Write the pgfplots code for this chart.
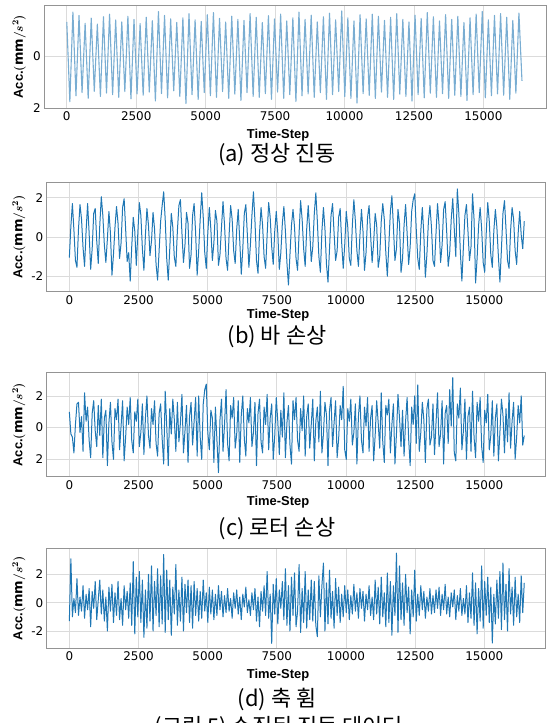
\documentclass[border=0pt]{standalone}
\usepackage{fontspec}
\setmainfont{DejaVu Sans}
\newfontfamily\lab{Liberation Sans}
\newfontfamily\kr{Noto Sans CJK KR}
\usepackage{pgfplots}
\usepackage{pgfplotstable}
\pgfplotsset{compat=1.18}
\definecolor{mplblue}{HTML}{1F77B4}

% (a) normal vibration, one value every 110 steps
\pgfplotstableread[row sep=\\]{y\\
1.30\\ -1.75\\ 1.68\\ -1.52\\ 1.55\\ -1.40\\ 1.25\\ -1.62\\ 1.45\\ -1.35\\ 1.22\\ -1.55\\ 1.50\\ -1.42\\ 1.60\\ -1.48\\ 1.38\\ -1.58\\ 1.30\\ -1.36\\
1.52\\ -1.64\\ 1.40\\ -1.45\\ 1.24\\ -1.50\\ 1.48\\ -1.38\\ 1.35\\ -1.72\\ 1.70\\ -1.44\\ 1.55\\ -1.60\\ 1.42\\ -1.33\\ 1.28\\ -1.55\\ 1.46\\ -1.82\\
1.62\\ -1.48\\ 1.38\\ -1.66\\ 1.32\\ -1.40\\ 1.58\\ -1.52\\ 1.66\\ -1.58\\ 1.44\\ -1.36\\ 1.30\\ -1.62\\ 1.52\\ -1.46\\ 1.40\\ -1.70\\ 1.36\\ -1.40\\
1.62\\ -1.55\\ 1.48\\ -1.58\\ 1.28\\ -1.44\\ 1.54\\ -1.66\\ 1.42\\ -1.38\\ 1.60\\ -1.62\\ 1.34\\ -1.48\\ 1.46\\ -1.74\\ 1.68\\ -1.52\\ 1.40\\ -1.45\\
1.56\\ -1.58\\ 1.30\\ -1.40\\ 1.50\\ -1.66\\ 1.64\\ -1.48\\ 1.38\\ -1.36\\ 1.72\\ -1.55\\ 1.46\\ -1.62\\ 1.34\\ -1.80\\ 1.58\\ -1.44\\ 1.42\\ -1.50\\
1.60\\ -1.62\\ 1.52\\ -1.38\\ 1.36\\ -1.58\\ 1.48\\ -1.66\\ 1.62\\ -1.46\\ 1.40\\ -1.55\\ 1.30\\ -1.72\\ 1.56\\ -1.48\\ 1.44\\ -1.60\\ 1.66\\ -1.42\\
1.50\\ -1.58\\ 1.34\\ -1.44\\ 1.58\\ -1.62\\ 1.40\\ -1.50\\ 1.52\\ -1.55\\ 1.28\\ -1.70\\ 1.46\\ -1.48\\ 1.60\\ -1.40\\ 1.70\\ -1.60\\ 1.38\\ -1.52\\
1.55\\ -1.45\\ 1.62\\ -1.50\\ 1.48\\ -1.66\\ 1.36\\ -1.42\\ 1.64\\ -0.95\\
}\dataa

% (b) bar damage, one value every 55 steps
\pgfplotstableread[row sep=\\]{y\\
-1.05\\ 0.55\\ 1.70\\ 0.35\\ -1.20\\ -1.55\\ 0.40\\ 1.65\\ 0.90\\ -0.55\\ -1.50\\ 0.30\\ 1.70\\ 0.20\\ -1.65\\ -0.60\\ 1.20\\ 1.45\\ -0.20\\ -1.35\\
0.60\\ 2.05\\ 1.10\\ -0.40\\ -1.30\\ -0.10\\ 1.30\\ 0.20\\ -1.95\\ -0.90\\ 0.50\\ 1.55\\ 0.70\\ -1.10\\ -0.30\\ 1.50\\ 1.95\\ 0.40\\ -1.25\\ -0.80\\
-2.25\\ -0.50\\ 1.00\\ 0.30\\ -1.45\\ 0.20\\ 1.75\\ 1.10\\ -0.60\\ -1.70\\ 0.10\\ 1.45\\ 0.60\\ -0.95\\ -0.20\\ 1.25\\ 0.40\\ -1.40\\ -2.20\\ -0.70\\
0.80\\ 1.60\\ 2.30\\ 0.90\\ -1.10\\ -2.20\\ -0.60\\ 1.20\\ 0.50\\ -1.05\\ -1.50\\ 0.30\\ 1.60\\ 1.90\\ 0.20\\ -1.30\\ -0.40\\ 1.25\\ 0.70\\ -1.60\\
-0.90\\ 1.10\\ 1.70\\ 0.20\\ -1.95\\ -0.70\\ 0.90\\ 2.25\\ 1.00\\ -0.80\\ -1.60\\ 0.20\\ 1.50\\ 0.40\\ -1.20\\ -0.30\\ 1.35\\ 0.80\\ -1.45\\ -0.90\\
0.50\\ 1.80\\ 0.60\\ -1.10\\ -1.70\\ 0.10\\ 1.60\\ 0.90\\ -0.70\\ -1.35\\ 0.40\\ 1.40\\ -0.20\\ -1.90\\ -0.60\\ 1.20\\ 1.65\\ 0.10\\ -1.55\\ -0.40\\
1.10\\ 2.30\\ 0.80\\ -1.20\\ -1.85\\ 0.20\\ 1.50\\ 0.60\\ -1.00\\ -1.60\\ 0.10\\ 1.75\\ 1.00\\ -0.50\\ -1.40\\ 0.30\\ 1.30\\ 0.20\\ -1.65\\ -0.80\\
0.70\\ 1.55\\ 0.30\\ -1.30\\ -2.45\\ -0.90\\ 0.60\\ 1.40\\ 0.50\\ -1.10\\ -1.70\\ 0.20\\ 1.85\\ 0.90\\ -0.60\\ -1.50\\ 0.40\\ 1.60\\ 0.30\\ -1.25\\
-0.50\\ 1.20\\ 2.25\\ 0.80\\ -1.00\\ -1.80\\ 0.30\\ 1.50\\ 0.40\\ -1.40\\ -2.30\\ -0.60\\ 1.10\\ 1.70\\ 0.20\\ -1.20\\ -0.70\\ 1.00\\ 1.45\\ -0.30\\
-1.60\\ -0.40\\ 1.30\\ 0.50\\ -1.10\\ -1.45\\ 0.60\\ 1.90\\ 0.80\\ -0.70\\ -1.50\\ 0.10\\ 1.40\\ 0.30\\ -1.70\\ -0.80\\ 1.00\\ 1.60\\ 0.10\\ -1.30\\
-0.30\\ 1.20\\ 0.60\\ -1.55\\ -1.00\\ 0.80\\ 1.70\\ 0.90\\ -0.80\\ -2.00\\ -0.40\\ 1.30\\ 2.10\\ 0.50\\ -1.20\\ -0.60\\ 1.40\\ 0.70\\ -1.80\\ -1.10\\
0.60\\ 1.65\\ 0.20\\ -1.40\\ -0.50\\ 1.30\\ 1.90\\ 2.20\\ 0.40\\ -1.10\\ -1.65\\ 0.30\\ 1.50\\ 0.10\\ -2.05\\ -0.90\\ 0.80\\ 1.60\\ 0.50\\ -1.20\\
-1.50\\ 0.20\\ 1.70\\ 0.60\\ -1.30\\ -0.40\\ 1.40\\ 1.80\\ 0.30\\ -1.50\\ -0.80\\ 0.90\\ 1.95\\ 0.40\\ -1.00\\ 2.45\\ 1.20\\ -0.80\\ -2.25\\ -0.50\\
1.10\\ 1.65\\ 0.30\\ -1.20\\ -0.50\\ 2.20\\ 0.90\\ -2.35\\ -1.10\\ 0.60\\ 1.50\\ 0.40\\ -1.30\\ -1.80\\ 0.20\\ 1.75\\ 0.80\\ -0.90\\ -1.55\\ 0.30\\
1.40\\ 0.50\\ -1.00\\ -2.30\\ -0.60\\ 1.20\\ 1.85\\ 0.40\\ -1.20\\ -1.60\\ 0.30\\ 1.50\\ 0.90\\ -0.70\\ -1.40\\ 0.20\\ 1.30\\ 0.10\\ -0.60\\ 0.80\\
}\datab

% (c) rotor damage
\pgfplotstableread[row sep=\\]{y\\
1.00\\ -0.40\\ -0.60\\ -1.60\\ 0.20\\ 1.50\\ 1.60\\ -0.30\\ 0.70\\ -1.50\\ 2.20\\ 0.40\\ 1.30\\ -0.80\\ -1.90\\ 0.90\\ 1.70\\ -0.20\\ -1.20\\ 1.40\\
-0.50\\ 1.80\\ -1.90\\ 0.60\\ 1.10\\ -2.40\\ 0.30\\ 1.60\\ -0.90\\ -2.00\\ 1.20\\ 0.50\\ 1.80\\ -1.40\\ 0.10\\ 1.70\\ -2.10\\ -0.60\\ 1.30\\ 0.20\\
1.90\\ -0.80\\ -1.60\\ 1.00\\ 0.40\\ 1.80\\ -1.20\\ -0.30\\ 1.50\\ -1.70\\ 0.60\\ 2.00\\ -0.50\\ -1.30\\ 1.20\\ 0.20\\ 1.70\\ -1.00\\ -1.80\\ 0.90\\
1.50\\ -0.70\\ -2.30\\ 2.30\\ 0.10\\ -2.40\\ 1.20\\ -0.40\\ 1.80\\ 0.50\\ -1.50\\ 1.60\\ -0.90\\ 0.30\\ 2.10\\ -1.60\\ -0.20\\ 1.40\\ -2.20\\ 0.70\\
1.60\\ -1.10\\ 0.40\\ 1.90\\ -1.80\\ 2.00\\ -0.60\\ -2.00\\ 1.50\\ 2.40\\ 2.75\\ -0.30\\ -1.40\\ 1.10\\ 0.60\\ -2.20\\ 1.30\\ -0.80\\ -2.84\\ 0.50\\
1.80\\ -1.50\\ 0.20\\ 2.40\\ -1.00\\ -2.10\\ 1.40\\ 0.60\\ 1.90\\ -1.30\\ -0.40\\ 1.70\\ -2.20\\ 0.80\\ 2.00\\ -0.70\\ -1.80\\ 1.20\\ 0.30\\ 1.90\\
-1.20\\ -0.30\\ 1.60\\ -2.40\\ 0.90\\ 1.80\\ -0.90\\ -1.60\\ 1.30\\ 0.20\\ 2.10\\ -1.40\\ 0.60\\ 1.50\\ -2.00\\ -0.50\\ 1.90\\ 0.40\\ -1.70\\ 1.10\\
-0.60\\ 2.20\\ -1.90\\ 0.30\\ 1.40\\ -1.10\\ -2.30\\ 1.70\\ 0.50\\ 1.90\\ -0.80\\ -1.50\\ 1.20\\ -0.20\\ 2.00\\ -1.80\\ 0.70\\ 1.50\\ -1.30\\ 0.20\\
1.80\\ -2.10\\ 0.40\\ 1.30\\ -0.90\\ 2.30\\ -1.60\\ -0.40\\ 1.60\\ 0.80\\ -2.40\\ 1.10\\ 1.90\\ -1.20\\ 0.30\\ 1.70\\ -1.90\\ -0.70\\ 1.40\\ 0.50\\
2.60\\ -1.40\\ -2.00\\ 1.20\\ 0.40\\ 1.80\\ -1.10\\ -0.30\\ 1.50\\ -2.30\\ 0.70\\ 2.00\\ -0.80\\ -1.60\\ 1.30\\ 0.10\\ 1.90\\ -1.50\\ 0.60\\ 1.40\\
-2.10\\ -0.50\\ 1.70\\ 0.30\\ -1.30\\ 2.20\\ -0.90\\ -2.20\\ 1.40\\ 0.80\\ 1.80\\ -1.60\\ 0.20\\ 1.50\\ -2.30\\ -0.40\\ 2.10\\ 0.60\\ -1.20\\ 1.10\\
-1.80\\ 0.40\\ 1.90\\ -0.70\\ -2.40\\ 1.30\\ 0.20\\ 2.00\\ -1.00\\ 2.70\\ -1.50\\ -0.30\\ 1.60\\ 0.50\\ -2.20\\ 1.20\\ 1.80\\ -1.10\\ -0.60\\ 1.50\\
-1.70\\ 0.30\\ 2.20\\ -1.20\\ -0.40\\ 1.70\\ -2.30\\ 0.90\\ 1.40\\ -1.00\\ 2.40\\ 0.10\\ 3.16\\ -1.60\\ -2.10\\ 1.50\\ 0.60\\ 2.50\\ -1.40\\ -0.20\\
1.80\\ -2.00\\ 0.70\\ 1.30\\ -1.50\\ 2.30\\ -0.60\\ -1.90\\ 1.60\\ 0.40\\ 1.90\\ -1.20\\ -2.20\\ 1.10\\ 0.30\\ 2.10\\ -1.40\\ -0.50\\ 1.70\\ -1.80\\
0.60\\ 1.50\\ -2.10\\ -0.30\\ 1.80\\ 0.80\\ -1.60\\ 1.20\\ -0.90\\ 2.20\\ -1.30\\ 0.40\\ 1.60\\ -2.00\\ -0.60\\ 1.40\\ 0.30\\ 2.00\\ -1.10\\ -0.50\\
}\datac

% (d) shaft bending
\pgfplotstableread[row sep=\\]{y\\
-1.30\\ 3.10\\ -1.00\\ 0.30\\ -0.70\\ 1.70\\ -0.90\\ 0.40\\ -0.60\\ 1.20\\ -1.10\\ 0.60\\ -0.50\\ 1.00\\ -1.70\\ 0.80\\ -0.40\\ 1.50\\ -1.20\\ 0.20\\
1.60\\ -0.80\\ 0.90\\ -1.30\\ 0.40\\ -2.00\\ 1.10\\ -0.60\\ 1.30\\ -1.40\\ 0.70\\ -0.90\\ 1.50\\ -1.20\\ 0.30\\ -1.60\\ 1.20\\ -0.50\\ 0.80\\ -1.10\\
1.40\\ -1.60\\ 2.90\\ -2.20\\ 1.80\\ -1.00\\ 2.20\\ -1.40\\ 1.60\\ -2.45\\ 0.90\\ -1.80\\ 2.00\\ -1.30\\ 2.60\\ -2.00\\ 1.50\\ -0.90\\ 2.40\\ -1.70\\
1.90\\ -1.50\\ 3.40\\ -2.10\\ 2.30\\ -1.20\\ 1.60\\ -2.30\\ 1.10\\ -0.80\\ 2.70\\ -1.60\\ 0.90\\ -1.30\\ 1.80\\ -2.00\\ 1.30\\ -0.70\\ 1.60\\ -1.40\\
1.20\\ -1.80\\ 1.50\\ -0.90\\ 1.00\\ -1.30\\ 0.80\\ -1.10\\ 1.60\\ -0.60\\ 0.70\\ -1.40\\ 1.10\\ -0.80\\ 0.90\\ -1.20\\ 0.60\\ -0.90\\ 1.20\\ -0.50\\
0.80\\ -1.00\\ 0.50\\ -0.70\\ 1.00\\ -0.60\\ 0.30\\ -1.10\\ 0.70\\ -0.40\\ 0.90\\ -0.80\\ 0.40\\ -1.20\\ 0.60\\ -0.30\\ 1.10\\ -0.70\\ 0.20\\ -0.90\\
0.70\\ -0.50\\ 1.00\\ -1.30\\ 0.40\\ -1.70\\ 0.80\\ -0.60\\ 1.20\\ -0.90\\ 2.20\\ -1.10\\ 0.60\\ -2.87\\ 1.30\\ -0.80\\ 1.70\\ -1.50\\ 0.90\\ -0.40\\
1.50\\ -1.20\\ 2.40\\ -1.60\\ 1.20\\ -2.00\\ 1.80\\ -0.90\\ 2.10\\ -1.70\\ -0.60\\ 2.70\\ -2.10\\ 1.00\\ -1.40\\ 2.20\\ -1.80\\ 0.90\\ -1.20\\ 1.60\\
-1.30\\ 1.50\\ -1.60\\ -2.40\\ 1.90\\ -1.00\\ 1.20\\ 2.80\\ -2.00\\ 1.40\\ -1.50\\ 2.30\\ -1.10\\ 0.80\\ -1.80\\ 1.70\\ -0.90\\ 1.10\\ -1.40\\ 0.60\\
-1.00\\ 1.20\\ -0.70\\ 0.90\\ -1.20\\ 0.50\\ -0.80\\ 1.30\\ -0.60\\ 0.70\\ -1.10\\ 1.00\\ -0.40\\ 0.80\\ -1.30\\ 0.60\\ -0.50\\ 1.20\\ -0.90\\ 0.40\\
-1.20\\ 1.60\\ -0.80\\ 1.10\\ -1.50\\ 1.80\\ -1.00\\ 0.70\\ -1.70\\ 2.10\\ -1.40\\ 1.50\\ -2.30\\ 1.20\\ -0.90\\ 3.50\\ -2.10\\ 2.60\\ -1.20\\ 1.40\\
-1.60\\ 2.00\\ -0.70\\ 1.10\\ -2.20\\ 0.90\\ -1.00\\ 2.30\\ -1.30\\ 0.60\\ -0.90\\ 1.20\\ -0.50\\ 0.80\\ -1.10\\ 0.40\\ -0.60\\ 1.00\\ -0.80\\ 0.50\\
-0.70\\ 0.90\\ -0.40\\ 1.10\\ -0.90\\ 0.60\\ -0.50\\ 1.30\\ -0.80\\ 0.40\\ -1.00\\ 0.70\\ -0.30\\ 0.90\\ -1.20\\ 0.50\\ -0.60\\ 1.00\\ -0.90\\ 0.30\\
-0.80\\ 1.20\\ -1.40\\ 0.70\\ -1.10\\ 2.10\\ -1.60\\ 1.40\\ -2.20\\ 1.00\\ -1.30\\ 2.60\\ -1.80\\ 1.50\\ -0.90\\ 1.80\\ -1.40\\ 1.10\\ -2.85\\ 0.60\\
-1.50\\ 1.60\\ -1.10\\ 2.20\\ -1.90\\ 2.80\\ -1.20\\ 1.30\\ -2.00\\ 2.40\\ -0.80\\ 1.10\\ -1.60\\ 1.80\\ -1.00\\ 0.60\\ -1.40\\ 1.90\\ -0.70\\ 1.40\\
}\datad

\pgfplotsset{
  vib/.style={
    scale only axis,
    anchor=south west,
    xmin=-819, xmax=17202,
    width=498.5bp,
    xtick={0,2500,5000,7500,10000,12500,15000},
    ytick={-2,0,2},
    scaled x ticks=false,
    scaled y ticks=false,
    /pgf/number format/assume math mode=true,
    /pgf/number format/1000 sep={},
    grid=major,
    major grid style={draw=black!14, line width=0.8bp},
    axis line style={draw=black!42, line width=0.9bp},
    major tick length=0pt,
    tick label style={font=\fontsize{12}{14}\selectfont},
    xlabel={Time-Step},
    ylabel={{\lab\bfseries Acc.}{\boldmath$(\mathrm{mm}/s^{2})$}},
    xlabel style={font=\lab\bfseries\fontsize{13}{15}\selectfont, anchor=center},
    ylabel style={font=\fontsize{13}{15}\selectfont, anchor=center,
                  at={(axis description cs:-0.056,0.5)}},
  },
  sig/.style={draw=mplblue, line width=1bp, line join=round, no markers},
}

\begin{document}
\begin{tikzpicture}
\useasboundingbox (0,0) rectangle (549bp,723bp);

\begin{axis}[vib, at={(44.3bp,614.7bp)}, width=501.7bp, height=103.3bp,
    xmin=-810, xmax=17255, ymin=-2.0, ymax=1.95,
    ytick={-2,0}, yticklabels={2,0},
    xlabel style={at={(axis description cs:0.466,0)}, yshift=-26.7bp},
    ylabel style={at={(axis description cs:-0.050,0.5)}}]
\addplot[sig, draw=mplblue!60, line width=1.1bp] table[x expr=\coordindex*110, y=y] {\dataa};
\end{axis}

\begin{axis}[vib, at={(46.7bp,431.3bp)}, height=109.7bp,
    ymin=-2.79, ymax=2.8, yticklabels={-2,0,2},
    xlabel style={at={(axis description cs:0.464,0)}, yshift=-23.3bp}]
\addplot[sig] table[x expr=\coordindex*55, y=y] {\datab};
\end{axis}

\begin{axis}[vib, at={(46.7bp,246.3bp)}, height=104bp,
    ymin=-3.10, ymax=3.47, yticklabels={2,0,2},
    xlabel style={at={(axis description cs:0.464,0)}, yshift=-25bp}]
\addplot[sig] table[x expr=\coordindex*55, y=y] {\datac};
\end{axis}

\begin{axis}[vib, at={(46.7bp,74.7bp)}, height=100bp,
    ymin=-3.22, ymax=3.84, yticklabels={-2,0,2},
    xlabel style={at={(axis description cs:0.464,0)}, yshift=-26.7bp}]
\addplot[sig] table[x expr=\coordindex*55, y=y] {\datad};
\end{axis}

\begin{scope}[every node/.style={font=\kr\fontsize{22}{26}\selectfont, anchor=center}]
\node at (277bp,568bp) {(a) 정상 진동};
\node at (277bp,386bp) {(b) 바 손상};
\node at (277bp,194bp) {(c) 로터 손상};
\node at (277bp,24bp) {(d) 축 휨};
\node at (279bp,-5bp) {(그림 5) 수집된 진동 데이터};
\end{scope}
\end{tikzpicture}
\end{document}
